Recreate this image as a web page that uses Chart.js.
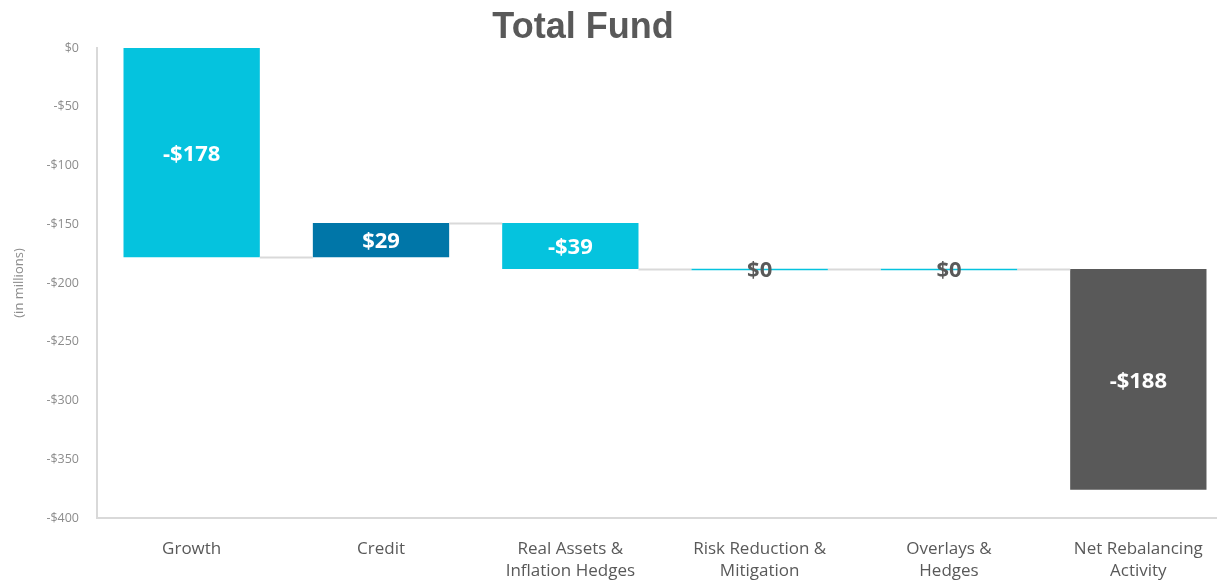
<!DOCTYPE html>
<html>
<head>
<meta charset="utf-8">
<script src="https://cdn.jsdelivr.net/npm/chart.js@4"></script>
<style>
  html, body { margin: 0; padding: 0; background: #fff; overflow: hidden; }
  #wrap { width: 1235px; height: 583px; position: relative; }
</style>
</head>
<body>
<div id="wrap"><canvas id="fundChart"></canvas></div>
<script>
const categories = [
    'Growth',
    'Credit',
    ['Real Assets &', 'Inflation Hedges'],
    ['Risk Reduction &', 'Mitigation'],
    ['Overlays &', 'Hedges'],
    ['Net Rebalancing', 'Activity']
];
const changes = [-178, 29, -39, 0, 0, -188];
const barColors = ['#05C3DE', '#0076A8', '#05C3DE', '#05C3DE', '#05C3DE', '#595959'];
const yTicks = [0, -50, -100, -150, -200, -250, -300, -350, -400];

const fontFamily = '"Open Sans", "Noto Sans", sans-serif';

// waterfall: each bar starts where the previous one ended
let running = 0;
const floating = changes.map(v => {
    const bar = [running, running + v];
    running += v;
    return bar;
});

function money(v) {
    return (v < 0 ? '-$' : '$') + Math.abs(v);
}

// connectors, zero-height bars and value labels
const waterfallExtras = {
    id: 'waterfallExtras',
    afterDatasetsDraw(chart) {
        const ctx = chart.ctx;
        const meta = chart.getDatasetMeta(0);
        const y = chart.scales.y;
        ctx.save();
        // connector lines
        ctx.strokeStyle = '#d9d9d9';
        ctx.lineWidth = 2;
        for (let i = 0; i < meta.data.length - 1; i++) {
            const a = meta.data[i], b = meta.data[i + 1];
            const level = Math.round(y.getPixelForValue(floating[i][1])) + 0.5;
            ctx.beginPath();
            ctx.moveTo(a.x + a.width / 2, level);
            ctx.lineTo(b.x - b.width / 2, level);
            ctx.stroke();
        }
        // zero-height bars show as a thin line
        meta.data.forEach((bar, i) => {
            if (changes[i] === 0) {
                const level = Math.round(y.getPixelForValue(floating[i][0])) + 0.5;
                ctx.strokeStyle = barColors[i];
                ctx.lineWidth = 1.5;
                ctx.beginPath();
                ctx.moveTo(bar.x - bar.width / 2, level);
                ctx.lineTo(bar.x + bar.width / 2, level);
                ctx.stroke();
            }
        });
        // labels
        ctx.font = 'bold 22px ' + fontFamily;
        ctx.textAlign = 'center';
        ctx.textBaseline = 'middle';
        meta.data.forEach((bar, i) => {
            const mid = (y.getPixelForValue(floating[i][0]) + y.getPixelForValue(floating[i][1])) / 2;
            ctx.fillStyle = changes[i] === 0 ? '#595959' : '#ffffff';
            ctx.fillText(money(changes[i]), bar.x, mid + 2);
        });
        // title
        ctx.font = 'bold 36px "Liberation Sans", Arial, sans-serif';
        ctx.fillStyle = '#595959';
        ctx.textBaseline = 'alphabetic';
        ctx.fillText('Total Fund', 583, 38);
        ctx.restore();
    }
};

new Chart(document.getElementById('fundChart'), {
    type: 'bar',
    data: {
        labels: categories,
        datasets: [{
            data: floating,
            backgroundColor: barColors,
            borderWidth: 0,
            categoryPercentage: 1,
            barPercentage: 0.72
        }]
    },
    options: {
        responsive: true,
        maintainAspectRatio: false,
        animation: false,
        layout: { padding: { top: 48, right: 2, left: 0, bottom: 0 } },
        plugins: {
            legend: { display: false },
            tooltip: { enabled: false }
        },
        scales: {
            x: {
                grid: { display: false },
                border: { display: true, color: '#d9d9d9', width: 2 },
                ticks: {
                    color: '#595959',
                    font: { family: fontFamily, size: 17, lineHeight: 1.3 },
                    padding: 12,
                    maxRotation: 0,
                    autoSkip: false
                },
                afterFit(scale) { scale.height = 65; }
            },
            y: {
                min: -400,
                max: 0,
                grid: { display: false, drawTicks: false },
                border: { display: true, color: '#d9d9d9', width: 2 },
                afterBuildTicks(scale) {
                    scale.ticks = yTicks.map(v => ({ value: v }));
                },
                ticks: {
                    color: '#8c8c8c',
                    font: { family: fontFamily, size: 12.5 },
                    padding: 18,
                    callback: v => money(v)
                },
                title: {
                    display: true,
                    text: '(in millions)',
                    color: '#8c8c8c',
                    font: { family: fontFamily, size: 13 },
                    padding: { top: 11, bottom: 0 }
                },
                afterFit(scale) { scale.width = 97; }
            }
        }
    },
    plugins: [waterfallExtras]
});
</script>
</body>
</html>
